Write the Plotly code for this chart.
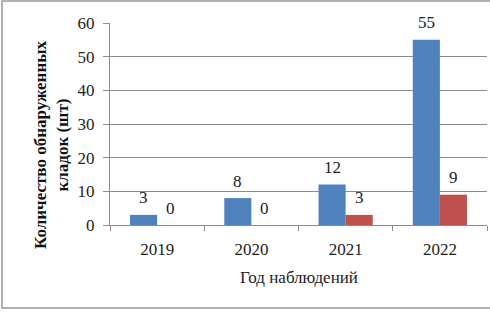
import plotly.graph_objects as go

years = ["2019", "2020", "2021", "2022"]
series_a = [3, 8, 12, 55]
series_b = [0, 0, 3, 9]
y_ticks = [0, 10, 20, 30, 40, 50, 60]
x_title = "Год наблюдений"
y_title = "Количество обнаруженных<br>кладок (шт)"

W, H = 490, 312
L, R, T, B = 110, 3, 23, 87
pw, ph = W - L - R, H - T - B
FONT = "Liberation Serif"
GRID = "#8c8c8c"

fig = go.Figure()
fig.add_trace(go.Bar(x=years, y=series_a, marker=dict(color="#4F81BD", line=dict(width=0)), name="a"))
fig.add_trace(go.Bar(x=years, y=series_b, marker=dict(color="#C0504D", line=dict(width=0)), name="b"))

bargap = 0.425
cat_px = pw / len(years)
bar_px = cat_px * (1 - bargap) / 2
annots = []
for vals, shift in ((series_a, -bar_px / 2), (series_b, bar_px / 2)):
    for i, v in enumerate(vals):
        annots.append(dict(x=i, y=v, xref="x", yref="y", text=str(v), showarrow=False,
                           xshift=shift, yshift=17, xanchor="center", yanchor="middle",
                           font=dict(family=FONT, size=17, color="#222")))
annots.append(dict(x=0.5, y=(225 - 277) / ph, xref="paper", yref="paper", text=x_title,
                   showarrow=False, xanchor="center", yanchor="middle",
                   font=dict(family=FONT, size=17, color="#222")))
annots.append(dict(x=(51 - L) / pw, y=(225 - 145) / ph, xref="paper", yref="paper",
                   text="<b>" + y_title.replace("<br>", "</b><br><b>") + "</b>",
                   showarrow=False, xanchor="center", yanchor="middle", textangle=-90, align="center",
                   font=dict(family=FONT, size=17, color="#111")))

fig.update_layout(
    width=W, height=H,
    margin=dict(l=L, r=R, t=T, b=B, pad=0, autoexpand=False),
    paper_bgcolor="white", plot_bgcolor="white",
    barmode="group", bargap=bargap, bargroupgap=0,
    showlegend=False, hovermode=False,
    font=dict(family=FONT, size=17, color="#222"),
    annotations=annots,
    shapes=[dict(type="rect", xref="paper", yref="paper",
                 x0=(2 - L) / pw, x1=(500 - L) / pw,
                 y0=(225 - 308) / ph, y1=(225 - 1) / ph,
                 line=dict(color="#999", width=1.5), fillcolor="rgba(0,0,0,0)", layer="below")],
)
fig.update_xaxes(type="category", range=[-0.5, len(years) - 0.5], autorange=False, automargin=False,
                 tickson="boundaries", ticks="outside", ticklen=5, tickcolor=GRID,
                 showline=True, linecolor=GRID, linewidth=1, showgrid=False,
                 ticklabelstandoff=9, tickfont=dict(family=FONT, size=17, color="#222"))
fig.update_yaxes(range=[0, 60], autorange=False, automargin=False, tickvals=y_ticks, ticks="outside",
                 ticklen=6, tickcolor=GRID,
                 showline=True, linecolor=GRID, linewidth=1, showgrid=True, gridcolor=GRID,
                 gridwidth=1, zeroline=False, ticklabelstandoff=5,
                 tickfont=dict(family=FONT, size=17, color="#222"))

fig.write_html("out.html", config={"displayModeBar": False},
               post_script="document.body.style.margin='0';document.body.style.padding='0';")
